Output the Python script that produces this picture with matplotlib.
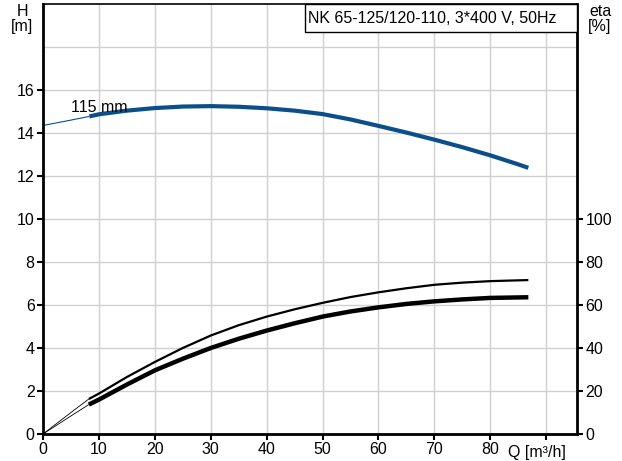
import matplotlib
matplotlib.use("Agg")
import matplotlib.pyplot as plt
from matplotlib.patches import Rectangle

plt.rcParams['font.family'] = ['Liberation Sans', 'DejaVu Sans']
plt.rcParams['font.size'] = 11.5

# Head curve H [m] vs Q [m3/h]
q_h = [0, 5, 8.3, 10, 15, 20, 25, 30, 35, 40, 45, 50, 55, 60, 65, 70, 75, 80, 85, 86.8]
h = [14.35, 14.6, 14.77, 14.87, 15.04, 15.16, 15.23, 15.25, 15.22, 15.15, 15.04, 14.88,
     14.63, 14.33, 14.02, 13.69, 13.34, 12.96, 12.54, 12.38]

# Efficiency curves eta [%]
q_e = [0, 5, 8.2, 10, 15, 20, 25, 30, 35, 40, 45, 50, 55, 60, 65, 70, 75, 80, 86.8]
eta_pump = [0, 10, 16.3, 18.8, 26.5, 33.5, 40, 45.8, 50.6, 54.6, 58, 61, 63.7, 65.9,
            67.8, 69.4, 70.4, 71.1, 71.6]
eta_tot = [0, 8.4, 13.7, 16, 23, 29.6, 35, 40, 44.3, 48.1, 51.5, 54.6, 57, 58.9,
           60.5, 61.7, 62.6, 63.3, 63.6]

x_ticks = [0, 10, 20, 30, 40, 50, 60, 70, 80, 90]
x_labels = ['0', '10', '20', '30', '40', '50', '60', '70', '80', '']
h_ticks = [0, 2, 4, 6, 8, 10, 12, 14, 16]
eta_ticks = [0, 20, 40, 60, 80, 100]
title = "NK 65-125/120-110, 3*400 V, 50Hz"
curve_label = "115 mm"

q_start = 8.3  # start of the operating range (thick part)

blue = '#0b4f8a'
fs = 11.5

fig = plt.figure(figsize=(6.22, 4.61), dpi=100)
ax = fig.add_axes([43/622, 1-434/461, (577-43)/622, (434-4)/461])
ax.set_xlim(0, 95.5)
ax.set_ylim(0, 20)

# grid
for xv in x_ticks[1:]:
    ax.axvline(xv, color='#d0d0d0', lw=1.0, zorder=0)
for yv in range(2, 20, 2):
    ax.axhline(yv, color='#d0d0d0', lw=1.0, zorder=0)

ax.set_xticks(x_ticks)
ax.set_xticklabels(x_labels)
ax.set_yticks(h_ticks)
ax.tick_params(axis='both', direction='out', length=4, width=1.5, colors='black',
               labelsize=fs, pad=2)
for s in ['left', 'bottom', 'right']:
    ax.spines[s].set_linewidth(2)
ax.spines['top'].set_linewidth(1.2)

# head curve: thin before operating range, thick within
i0 = q_h.index(q_start)
ax.plot(q_h[:i0+1], h[:i0+1], color=blue, lw=0.8, solid_capstyle='butt')
ax.plot(q_h[i0:], h[i0:], color=blue, lw=3.0, solid_capstyle='butt')
ax.text(4.96, 14.97, curve_label, fontsize=fs, va='baseline', ha='left')

ax2 = ax.twinx()
ax2.set_ylim(0, 200)
ax2.set_yticks(eta_ticks)
ax2.tick_params(axis='y', direction='out', length=4, width=1.5, labelsize=fs, pad=2)
for s in ax2.spines.values():
    s.set_visible(False)

j0 = q_e.index(8.2)
ax2.plot(q_e[:j0+1], eta_pump[:j0+1], color='black', lw=0.6, solid_capstyle='butt')
ax2.plot(q_e[j0:], eta_pump[j0:], color='black', lw=1.6, solid_capstyle='butt')
ax2.plot(q_e[:j0+1], eta_tot[:j0+1], color='black', lw=0.6, solid_capstyle='butt')
ax2.plot(q_e[j0:], eta_tot[j0:], color='black', lw=3.2, solid_capstyle='butt')

# title box
x0 = (305-43)/534
y0 = 1-28/430
ax.add_patch(Rectangle((x0, y0), 1-x0, 1-y0, transform=ax.transAxes, fill=True,
                       facecolor='white', edgecolor='black', lw=1.0, zorder=5,
                       clip_on=False))
ax.text(x0+0.005, (1+y0)/2, title, transform=ax.transAxes, va='center', ha='left',
        fontsize=fs, zorder=6)

# axis labels
fig.text(22/622, 1-12/461, "H", ha='center', va='center', fontsize=fs)
fig.text(22/622, 1-27/461, "[m]", ha='center', va='center', fontsize=fs)
fig.text(600/622, 1-12/461, "eta", ha='center', va='center', fontsize=fs)
fig.text(600/622, 1-27/461, "[%]", ha='center', va='center', fontsize=fs)
fig.text(566/622, 1-452/461, "Q [m³/h]", ha='right', va='center', fontsize=fs)

fig.savefig("out.png", dpi=100)
